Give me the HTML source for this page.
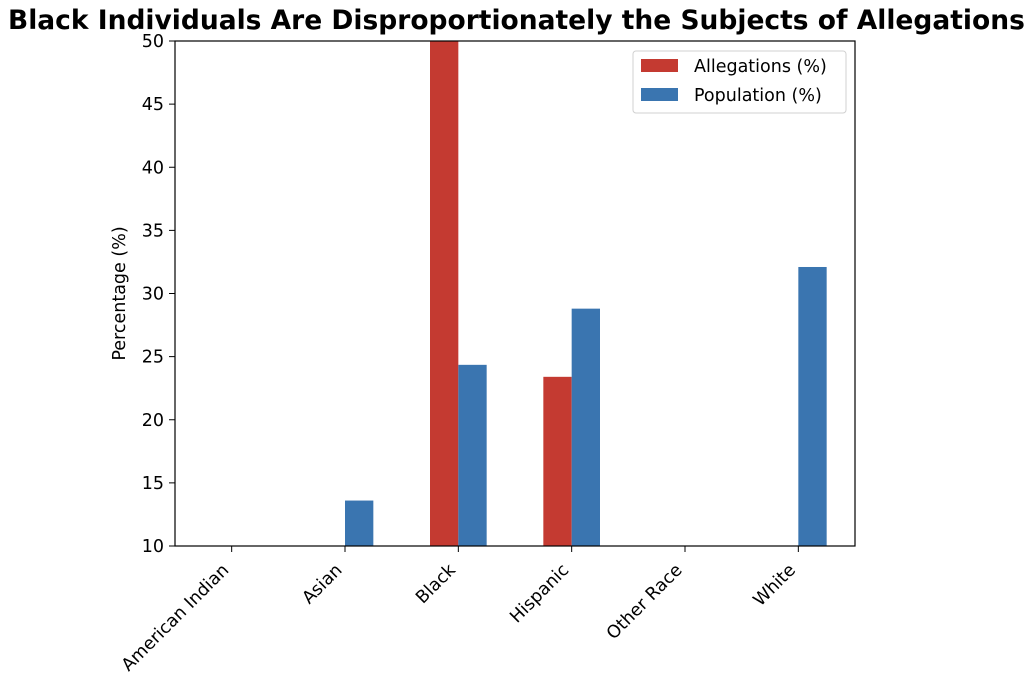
<!DOCTYPE html>
<html><head><meta charset="utf-8"><style>
body{margin:0;background:#fff;width:1024px;height:674px;overflow:hidden}
svg{display:block;font-family:"DejaVu Sans","Liberation Sans",sans-serif}
</style></head><body>
<svg id="chart" width="1024" height="674">
<text x="8" y="29" font-size="26.5" font-weight="bold" fill="#000">Black Individuals Are Disproportionately the Subjects of Allegations</text>
<g id="plot"></g>
</svg>
<script>
const categories=["American Indian","Asian","Black","Hispanic","Other Race","White"];
const allegations=[0.5,4,62,23.4,2,5];
const population=[0.3,13.6,24.35,28.8,0.5,32.1];
const yTicks=[10,15,20,25,30,35,40,45,50];
const L=175,R=855,T=41,B=546,yMin=10,yMax=50;
const FS=17.5;
const ns="http://www.w3.org/2000/svg";
const g=document.getElementById('plot');
function y(v){return B-(v-yMin)/(yMax-yMin)*(B-T);}
const bw=(R-L)/categories.length;
function xc(i){return L+bw*(i+0.5);}
function el(t,a){const e=document.createElementNS(ns,t);for(const k in a)e.setAttribute(k,a[k]);g.appendChild(e);return e;}
const clip=el('clipPath',{id:'c'});
const cr=document.createElementNS(ns,'rect');cr.setAttribute('x',L);cr.setAttribute('y',T);cr.setAttribute('width',R-L);cr.setAttribute('height',B-T);clip.appendChild(cr);
const bars=el('g',{'clip-path':'url(#c)'});
function bar(i,v,off,col,name){
 const top=y(Math.max(v,yMin));
 const r=document.createElementNS(ns,'rect');
 r.setAttribute('x',xc(i)+off*bw*0.25);r.setAttribute('y',Math.min(top,B));
 r.setAttribute('width',bw*0.25);r.setAttribute('height',Math.max(0,B-top));r.setAttribute('fill',col);
 
 
 bars.appendChild(r);
}
categories.forEach((c,i)=>{bar(i,allegations[i],-1,'#c43a31','allegations-bar-'+i);bar(i,population[i],0,'#3a75b0','population-bar-'+i);});
const frame=el('rect',{x:L,y:T,width:R-L,height:B-T,fill:'none',stroke:'#000','stroke-width':1.2});


yTicks.forEach(t=>{
 el('line',{x1:L-6,x2:L,y1:y(t),y2:y(t),stroke:'#000'});
 const tx=el('text',{x:L-11,y:y(t)+6,'font-size':FS,'text-anchor':'end',fill:'#000'});tx.textContent=t;
 
 
});
categories.forEach((c,i)=>{
 const x=xc(i);
 el('line',{x1:x,x2:x,y1:B,y2:B+6,stroke:'#000'});
 const tx=el('text',{x:0,y:0,'font-size':FS,'text-anchor':'end',fill:'#000',transform:`translate(${x-2},${B+25}) rotate(-45)`});tx.textContent=c;
 
 
});
const yl=el('text',{x:0,y:0,'font-size':FS,'text-anchor':'middle',fill:'#000',transform:`translate(125,${(T+B)/2}) rotate(-90)`});yl.textContent='Percentage (%)';


const lg=el('rect',{x:633,y:51,width:213,height:62,rx:3,fill:'#fff',stroke:'#d0d0d0'});


[['Allegations (%)','#c43a31',59],['Population (%)','#3a75b0',88]].forEach(([t,c,yy])=>{
 el('rect',{x:641,y:yy,width:37,height:13,fill:c});
 const tx=el('text',{x:694,y:yy+13,'font-size':FS,fill:'#000'});tx.textContent=t;
 
 
});
</script>
</body></html>
